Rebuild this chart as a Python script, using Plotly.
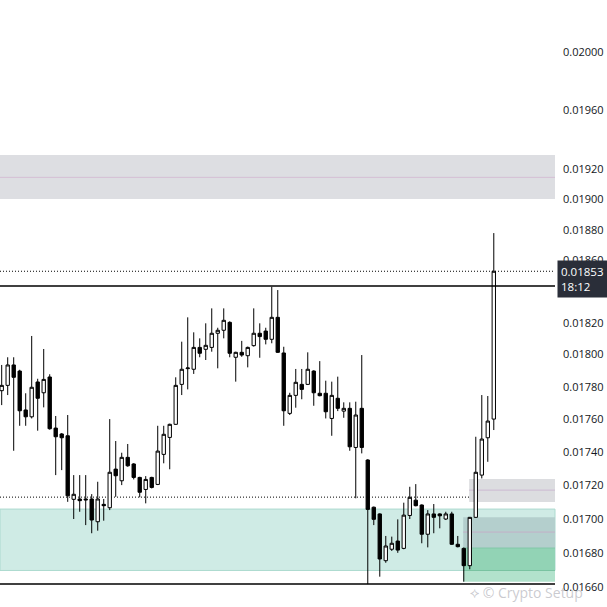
import plotly.graph_objects as go
import math

# ---- data (prices) ----
opens = [0.017775,0.017808,0.017935,0.017897,0.017656,0.017614,0.017829,0.017762,0.017860,0.017545,
         0.017509,0.017498,0.017115,0.017117,0.017117,0.017117,0.016982,0.017085,0.017065,0.017296,
         0.017226,0.017367,0.017327,0.017246,0.017174,0.017246,0.017204,0.017385,0.017488,0.017568,
         0.017814,0.017912,0.017908,0.018045,0.018033,0.018045,0.018134,0.018153,0.018203,0.017983,
         0.018014,0.017993,0.018056,0.018134,0.018148,0.018096,0.018235,0.018010,0.017635,0.017746,
         0.017814,0.017814,0.017897,0.017759,0.017759,0.017604,0.017728,0.017649,0.017666,0.017427,
         0.017666,0.017351,0.017068,0.017028,0.016753,0.016820,0.016868,0.016825,0.017019,0.017110,
         0.017081,0.016908,0.017028,0.017028,0.016998,0.017028,0.016849,0.016825,0.016724,0.017008,
         0.017260,0.017486,0.017600]
highs = [0.017935,0.017983,0.017983,0.017905,0.017759,0.018117,0.017849,0.018035,0.017877,0.017619,
         0.017515,0.017625,0.017260,0.017260,0.017260,0.017146,0.017220,0.017117,0.017600,0.017466,
         0.017395,0.017448,0.017332,0.017250,0.017254,0.017250,0.017559,0.017559,0.017572,0.017858,
         0.018081,0.018235,0.018140,0.018102,0.018197,0.018292,0.018169,0.018292,0.018210,0.018018,
         0.018086,0.018050,0.018292,0.018197,0.018169,0.018430,0.018409,0.018049,0.017762,0.017910,
         0.017910,0.018014,0.017902,0.017959,0.017837,0.017831,0.017862,0.017703,0.017703,0.017707,
         0.017997,0.017356,0.017072,0.017032,0.016898,0.016894,0.016996,0.017095,0.017190,0.017206,
         0.017085,0.017051,0.017087,0.017032,0.017041,0.017041,0.016898,0.016830,0.017010,0.017492,
         0.017748,0.017742,0.018778]
lows = [0.017686,0.017748,0.017407,0.017559,0.017559,0.017604,0.017529,0.017672,0.017535,0.017260,
        0.017290,0.017100,0.016998,0.017041,0.016962,0.016914,0.016929,0.016988,0.017051,0.017130,
        0.017200,0.017310,0.017234,0.017127,0.017091,0.017180,0.017200,0.017331,0.017295,0.017565,
        0.017748,0.017783,0.017879,0.017983,0.017966,0.018018,0.017914,0.018102,0.017983,0.017831,
        0.017986,0.017920,0.018050,0.017980,0.018064,0.018071,0.018010,0.017559,0.017625,0.017670,
        0.017722,0.017810,0.017682,0.017740,0.017604,0.017498,0.017649,0.017608,0.017407,0.017121,
        0.017391,0.016617,0.016962,0.016660,0.016741,0.016810,0.016799,0.016820,0.016998,0.017073,
        0.016855,0.016831,0.016914,0.016943,0.016992,0.016845,0.016831,0.016631,0.016703,0.017005,
        0.017240,0.017340,0.017533]
closes = [0.017808,0.017935,0.017858,0.017651,0.017614,0.017796,0.017728,0.017845,0.017541,0.017492,
          0.017486,0.017136,0.017145,0.017107,0.017112,0.016992,0.017117,0.017077,0.017277,0.017256,
          0.017367,0.017316,0.017246,0.017157,0.017234,0.017186,0.017405,0.017507,0.017568,0.017808,
          0.017908,0.017916,0.018045,0.018008,0.018058,0.018134,0.018153,0.018216,0.018008,0.018014,
          0.017997,0.018045,0.018134,0.018113,0.018096,0.018235,0.018014,0.017651,0.017746,0.017827,
          0.017783,0.017908,0.017762,0.017744,0.017645,0.017746,0.017666,0.017666,0.017431,0.017625,
          0.017427,0.017055,0.016996,0.016763,0.016839,0.016855,0.016815,0.017021,0.017127,0.017077,
          0.016908,0.017028,0.017008,0.017017,0.017028,0.016849,0.016835,0.016724,0.017008,0.017277,
          0.017478,0.017588,0.018530]
bars = list(range(len(opens)))

tick_vals = [0.0166,0.0168,0.0170,0.0172,0.0174,0.0176,0.0178,0.0180,0.0182,0.0184,
             0.0186,0.0188,0.0190,0.0192,0.0196,0.0200,0.0204]
tick_text = ["%.5f" % v for v in tick_vals]

last_price = 0.01853
last_label = "0.01853<br>18:12"
resistance_line = 0.018435
support_line = 0.016617
dotted_level = 0.017128
supply_zone = [0.019002, 0.019295, 0.019146]          # low, high, mid
demand_zone = [0.016696, 0.017057]                     # low, high
small_supply = [0.017099, 0.017236, 0.017170]          # low, high, mid
small_zone_gray = [0.016827, 0.017009, 0.016921]       # low, high, mid
small_zone_green = [0.016631, 0.016827]
demand_zone_start = 76.9
supply_small_start = 77.9
watermark = "⟡ © Crypto Setup"

y_range = [math.log10(0.016485), math.log10(0.020366)]
x_range = [-0.283, 92.2]

fig = go.Figure()
fig.add_trace(go.Candlestick(
    x=bars, open=opens, high=highs, low=lows, close=closes,
    increasing=dict(line=dict(color="black", width=1), fillcolor="white"),
    decreasing=dict(line=dict(color="black", width=1), fillcolor="black"),
    whiskerwidth=0, showlegend=False, hoverinfo="skip"))

dots = "1px,2px"
shapes = []
shapes.append(dict(type="rect", xref="paper", yref="y", x0=0, x1=1,
                   y0=supply_zone[0], y1=supply_zone[1], fillcolor="rgb(221,222,226)",
                   line=dict(width=0), layer="below"))
shapes.append(dict(type="line", xref="paper", yref="y", x0=0, x1=1,
                   y0=supply_zone[2], y1=supply_zone[2], line=dict(color="rgb(212,190,212)", width=1), layer="below"))
shapes.append(dict(type="rect", xref="paper", yref="y", x0=0, x1=1,
                   y0=demand_zone[0], y1=demand_zone[1], fillcolor="rgb(207,235,229)",
                   line=dict(color="rgb(172,218,207)", width=1), layer="below"))
shapes.append(dict(type="rect", xref="x", yref="y", x0=supply_small_start, x1=x_range[1],
                   y0=small_supply[0], y1=small_supply[1], fillcolor="rgb(220,221,224)",
                   line=dict(width=0), layer="below"))
shapes.append(dict(type="line", xref="x", yref="y", x0=supply_small_start, x1=x_range[1],
                   y0=small_supply[2], y1=small_supply[2], line=dict(color="rgb(205,185,210)", width=1), layer="below"))
shapes.append(dict(type="rect", xref="x", yref="y", x0=demand_zone_start, x1=x_range[1],
                   y0=small_zone_gray[0], y1=small_zone_gray[1], fillcolor="rgb(180,207,205)",
                   line=dict(width=0), layer="below"))
shapes.append(dict(type="line", xref="x", yref="y", x0=demand_zone_start, x1=x_range[1],
                   y0=small_zone_gray[2], y1=small_zone_gray[2], line=dict(color="rgb(196,176,200)", width=1), layer="below"))
shapes.append(dict(type="rect", xref="x", yref="y", x0=demand_zone_start, x1=x_range[1],
                   y0=small_zone_green[0], y1=demand_zone[0], fillcolor="rgb(178,226,204)",
                   line=dict(width=0), layer="below"))
shapes.append(dict(type="rect", xref="x", yref="y", x0=demand_zone_start, x1=x_range[1],
                   y0=demand_zone[0], y1=small_zone_green[1], fillcolor="rgb(146,211,181)",
                   line=dict(width=0), layer="below"))
shapes.append(dict(type="line", xref="x", yref="y", x0=demand_zone_start, x1=x_range[1],
                   y0=small_zone_green[1], y1=small_zone_green[1], line=dict(color="rgb(130,200,170)", width=1), layer="below"))
shapes.append(dict(type="line", xref="x", yref="y", x0=demand_zone_start, x1=x_range[1],
                   y0=demand_zone[0], y1=demand_zone[0], line=dict(color="rgb(120,195,160)", width=1), layer="below"))
shapes.append(dict(type="line", xref="paper", yref="y", x0=0, x1=1, y0=resistance_line, y1=resistance_line,
                   line=dict(color="black", width=1.5)))
shapes.append(dict(type="line", xref="paper", yref="y", x0=0, x1=1, y0=support_line, y1=support_line,
                   line=dict(color="black", width=1.5)))
shapes.append(dict(type="line", xref="paper", yref="y", x0=0, x1=1, y0=last_price, y1=last_price,
                   line=dict(color="black", width=1, dash=dots)))
shapes.append(dict(type="line", xref="paper", yref="y", x0=0, x1=1, y0=dotted_level, y1=dotted_level,
                   line=dict(color="black", width=1, dash=dots), layer="below"))

fig.update_layout(
    width=607, height=607,
    margin=dict(l=0, r=52, t=0, b=0, autoexpand=False),
    paper_bgcolor="white", plot_bgcolor="white",
    boxgap=0.2,
    shapes=shapes,
    showlegend=False,
    xaxis=dict(range=x_range, visible=False, rangeslider=dict(visible=False), fixedrange=True),
    yaxis=dict(type="log", range=y_range, side="right", showgrid=False, zeroline=False,
               tickvals=tick_vals, ticktext=tick_text, ticks="", ticklabelstandoff=7,
               tickfont=dict(family="Open Sans", size=11, color="#131722"), showline=False),
    annotations=[
        dict(xref="paper", yref="paper", x=468/555, y=15/607, xanchor="left", yanchor="middle",
             text=watermark, showarrow=False,
             font=dict(family="Open Sans", size=14, color="rgba(150,150,160,0.5)")),
        dict(xref="paper", yref="y", x=1, y=math.log10(0.018600), xanchor="left", yanchor="top",
             text=last_label, showarrow=False, align="left", xshift=2,
             bgcolor="rgb(42,46,57)", borderpad=3, width=44,
             font=dict(family="Open Sans", size=11.5, color="white")),
    ],
)

fig.write_html("out.html", config={"displayModeBar": False},
               post_script="document.body.style.margin='0';document.body.style.overflow='hidden';")
